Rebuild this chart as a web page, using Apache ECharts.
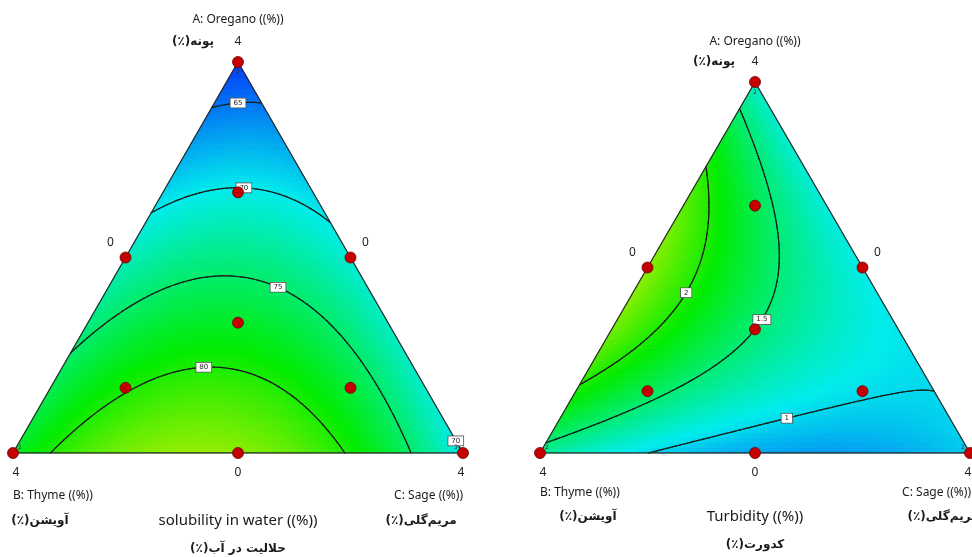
<!DOCTYPE html>
<html>
<head>
<meta charset="utf-8">
<script src="https://cdn.jsdelivr.net/npm/echarts/dist/echarts.min.js"></script>
<style>
  html, body { margin: 0; padding: 0; background: #fff; }
  #chart { width: 972px; height: 557px; }
</style>
</head>
<body>
<div id="chart"></div>
<script>
// ---- data -------------------------------------------------------------
// Mixture corners: A = Oregano (top), B = Thyme (bottom-left), C = Sage (bottom-right)

// Predicted response at the pure blends [A, B, C]
const solubilityVertex = [62.5, 77.4, 69.8];
// Predicted response at the 50:50 binary blends [AB, AC, BC]
const solubilityEdgeMid = [71.8, 70.8, 84.2];
const solubilityLevels = [65, 70, 75, 80];

const turbidityVertex = [1.2, 1.39, 0.95];
const turbidityEdgeMid = [2.37, 1.09, 0.80];
const turbidityLevels = [1, 1.5, 2];

// Design points as component fractions
const designA = [1, 0, 0, 0.5, 0.5, 0, 0.3333, 0.6667, 0.1667, 0.1667];
const designB = [0, 1, 0, 0.5, 0, 0.5, 0.3333, 0.1667, 0.6667, 0.1667];
const designC = [0, 0, 1, 0, 0.5, 0.5, 0.3333, 0.1667, 0.1667, 0.6667];

// Replicate counts printed beside the pure-blend points [A, B, C]
const solubilityReplicates = ['2', '2', '3'];
const turbidityReplicates = ['2', '2', '2'];

// Axis tick text at corners [A, B, C] and edge midpoints [AB, AC, BC]
const cornerTicks = ['4', '4', '4'];
const midTicks = ['0', '0', '0'];

// Titles
const nameA = 'A: Oregano ((%))';
const nameB = 'B: Thyme ((%))';
const nameC = 'C: Sage ((%))';
const faA = 'پونه(٪)';
const faB = 'آویشن(٪)';
const faC = 'مریم‌گلی(٪)';
const titleSolubility = 'solubility in water ((%))';
const faSolubility = 'حلالیت در آب(٪)';
const titleTurbidity = 'Turbidity ((%))';
const faTurbidity = 'کدورت(٪)';

// ---- model & geometry ---------------------------------------------------
// Scheffé quadratic mixture model through the vertex and midpoint values
function blendModel(vertex, mid) {
  const [yA, yB, yC] = vertex;
  const bAB = 4 * mid[0] - 2 * (yA + yB);
  const bAC = 4 * mid[1] - 2 * (yA + yC);
  const bBC = 4 * mid[2] - 2 * (yB + yC);
  return (a, b, c) => yA * a + yB * b + yC * c + bAB * a * b + bAC * a * c + bBC * b * c;
}
// ternary fractions -> plane (x across the base, y = A height)
const toXY = (a, c) => [c + a / 2, a];

const rampStops = [
  [0.00, [0, 20, 250]],
  [0.25, [0, 236, 236]],
  [0.50, [0, 236, 0]],
  [0.75, [240, 240, 0]],
  [1.00, [240, 0, 0]]
];
function rampColor(t) {
  t = Math.max(0, Math.min(1, t));
  for (let k = 1; k < rampStops.length; k++) {
    if (t <= rampStops[k][0]) {
      const [t0, c0] = rampStops[k - 1];
      const [t1, c1] = rampStops[k];
      const u = (t - t0) / (t1 - t0);
      const c = c0.map((v, i) => Math.round(v + (c1[i] - v) * u));
      return 'rgb(' + c.join(',') + ')';
    }
  }
  return 'rgb(' + rampStops[rampStops.length - 1][1].join(',') + ')';
}

function fillCells(model, n, lo, hi) {
  const cells = [];
  const add = (p, q, r) => {
    const a = (p[0] + q[0] + r[0]) / (3 * n);
    const c = (p[1] + q[1] + r[1]) / (3 * n);
    const v = model(a, 1 - a - c, c);
    const P = toXY(p[0] / n, p[1] / n), Q = toXY(q[0] / n, q[1] / n), R = toXY(r[0] / n, r[1] / n);
    cells.push([P[0], P[1], Q[0], Q[1], R[0], R[1], (v - lo) / (hi - lo)]);
  };
  for (let i = 0; i < n; i++) {
    for (let j = 0; i + j < n; j++) {
      add([i, j], [i + 1, j], [i, j + 1]);
      if (i + j + 2 <= n) add([i + 1, j], [i, j + 1], [i + 1, j + 1]);
    }
  }
  return cells;
}

function contourSegments(model, levels, n) {
  const segs = [];
  const cache = {};
  const val = (i, j) => {
    const k = i + ',' + j;
    if (!(k in cache)) cache[k] = model(i / n, 1 - (i + j) / n, j / n);
    return cache[k];
  };
  const tri = (p, q, r) => {
    const nodes = [p, q, r];
    const f = nodes.map(d => val(d[0], d[1]));
    levels.forEach(L => {
      const pts = [];
      for (let e = 0; e < 3; e++) {
        const s = e, t = (e + 1) % 3;
        if ((f[s] - L) * (f[t] - L) < 0) {
          const u = (L - f[s]) / (f[t] - f[s]);
          const a = (nodes[s][0] + u * (nodes[t][0] - nodes[s][0])) / n;
          const c = (nodes[s][1] + u * (nodes[t][1] - nodes[s][1])) / n;
          pts.push(toXY(a, c));
        }
      }
      if (pts.length === 2) segs.push([pts[0][0], pts[0][1], pts[1][0], pts[1][1]]);
    });
  };
  for (let i = 0; i < n; i++) {
    for (let j = 0; i + j < n; j++) {
      tri([i, j], [i + 1, j], [i, j + 1]);
      if (i + j + 2 <= n) tri([i + 1, j], [i, j + 1], [i + 1, j + 1]);
    }
  }
  return segs;
}

// place a level label on its contour, searching vertically near a seed
function labelPoint(model, level, x, aSeed) {
  const f = a => { const c = x - a / 2; return model(a, 1 - a - c, c) - level; };
  let best = null;
  const step = 0.002;
  for (let a = Math.max(0, aSeed - 0.15); a < Math.min(1, aSeed + 0.15); a += step) {
    const c0 = x - a / 2, c1 = x - (a + step) / 2;
    if (c0 < 0 || 1 - a - c0 < 0 || c1 < 0 || 1 - (a + step) - c1 < 0) continue;
    if (f(a) * f(a + step) <= 0) {
      let lo = a, hi = a + step;
      for (let k = 0; k < 30; k++) {
        const m = (lo + hi) / 2;
        if (f(lo) * f(m) <= 0) hi = m; else lo = m;
      }
      const root = (lo + hi) / 2;
      if (best === null || Math.abs(root - aSeed) < Math.abs(best - aSeed)) best = root;
    }
  }
  return [x, best === null ? aSeed : best];
}

// ---- chart ---------------------------------------------------------------
const solubility = blendModel(solubilityVertex, solubilityEdgeMid);
const turbidity = blendModel(turbidityVertex, turbidityEdgeMid);

const plots = [
  {
    model: solubility, levels: solubilityLevels, range: [61, 97],
    replicates: solubilityReplicates,
    labelSeeds: [[65, 0.5, 0.9], [70, 0.513, 0.673], [75, 0.589, 0.4], [80, 0.424, 0.197], [70, 0.984, 0.031]]
  },
  {
    model: turbidity, levels: turbidityLevels, range: [0.25, 3.55],
    replicates: turbidityReplicates,
    labelSeeds: [[2, 0.34, 0.418], [1.5, 0.516, 0.329], [1, 0.574, 0.108]]
  }
];

const corners = [[1, 0, 0], [0, 1, 0], [0, 0, 1]];
const mids = [[0.5, 0.5, 0], [0.5, 0, 0.5], [0, 0.5, 0.5]];
const cornerOffsets = [[0, -20], [3, 20], [-2, 20]];
const midOffsets = [[-15, -15], [15, -15], [0, 20]];
const replicateOffsets = [[0, 10], [7, -6], [-7, -6]];

const series = [];
plots.forEach((pl, g) => {
  const axis = { xAxisIndex: g, yAxisIndex: g };
  // colour field
  series.push(Object.assign({
    type: 'custom', z: 1, silent: true, animation: false, progressive: 0,
    data: fillCells(pl.model, 72, pl.range[0], pl.range[1]),
    renderItem: (params, api) => {
      const p = [0, 2, 4].map(k => api.coord([api.value(k), api.value(k + 1)]));
      const col = rampColor(api.value(6));
      return { type: 'polygon', shape: { points: p }, style: { fill: col, stroke: col, lineWidth: 0.8 } };
    }
  }, axis));
  // contour lines
  series.push(Object.assign({
    type: 'custom', z: 2, silent: true, animation: false, progressive: 0,
    data: contourSegments(pl.model, pl.levels, 160),
    renderItem: (params, api) => {
      const p1 = api.coord([api.value(0), api.value(1)]);
      const p2 = api.coord([api.value(2), api.value(3)]);
      return { type: 'line', shape: { x1: p1[0], y1: p1[1], x2: p2[0], y2: p2[1] },
        style: { stroke: '#17221d', lineWidth: 1.2, lineCap: 'round' } };
    }
  }, axis));
  // triangle outline
  series.push(Object.assign({
    type: 'line', z: 3, silent: true, animation: false, symbol: 'none',
    data: corners.concat([corners[0]]).map(t => toXY(t[0], t[2])),
    lineStyle: { color: '#2b2b2b', width: 1.3 }
  }, axis));
  // contour level labels
  series.push(Object.assign({
    type: 'custom', z: 4, silent: true, animation: false,
    data: pl.labelSeeds.map(s => labelPoint(pl.model, s[0], s[1], s[2]).concat([s[0]])),
    renderItem: (params, api) => {
      const p = api.coord([api.value(0), api.value(1)]);
      return { type: 'text', x: p[0], y: p[1], style: {
        text: String(api.value(2)), fill: '#222', font: '7px "DejaVu Sans"',
        align: 'center', verticalAlign: 'middle', textAlign: 'center', textVerticalAlign: 'middle',
        backgroundColor: '#fff', borderColor: '#555', borderWidth: 0.8, padding: [1, 3, 1, 3]
      } };
    }
  }, axis));
  // design points
  series.push(Object.assign({
    type: 'scatter', z: 5, silent: true, animation: false,
    symbol: 'circle', symbolSize: 11,
    data: designA.map((a, k) => toXY(a, designC[k])),
    itemStyle: { color: '#c40000', borderColor: '#6e0000', borderWidth: 0.8, opacity: 1 }
  }, axis));
  // corner / midpoint ticks and replicate counts
  const ann = [];
  corners.forEach((t, k) => ann.push(toXY(t[0], t[2]).concat([0, k])));
  mids.forEach((t, k) => ann.push(toXY(t[0], t[2]).concat([1, k])));
  corners.forEach((t, k) => ann.push(toXY(t[0], t[2]).concat([2, k])));
  series.push(Object.assign({
    type: 'custom', z: 6, silent: true, animation: false,
    data: ann,
    renderItem: (params, api) => {
      const p = api.coord([api.value(0), api.value(1)]);
      const kind = api.value(2), k = api.value(3);
      let text, off, font = '12px "Noto Sans"', fill = '#222';
      if (kind === 0) { text = cornerTicks[k]; off = cornerOffsets[k]; }
      else if (kind === 1) { text = midTicks[k]; off = midOffsets[k]; }
      else { text = pl.replicates[k]; off = replicateOffsets[k]; font = '6px "DejaVu Sans"'; fill = '#333'; }
      return { type: 'text', x: p[0] + off[0], y: p[1] + off[1], style: {
        text: text, font: font, fill: fill,
        align: 'center', verticalAlign: 'middle', textAlign: 'center', textVerticalAlign: 'middle'
      } };
    }
  }, axis));
});

const latin = '12px "Noto Sans"';
const latinTitle = '15px "Noto Sans"';
const persian = 'bold 12px "DejaVu Sans"';
const rtl = s => '\u202B' + s + '\u202C';
function label(x, y, text, font, align) {
  return { type: 'text', x: x, y: y, silent: true, style: {
    text: text, font: font, fill: '#1a1a1a',
    align: align || 'center', verticalAlign: 'middle',
    textAlign: align || 'center', textVerticalAlign: 'middle'
  } };
}

const option = {
  animation: false,
  backgroundColor: '#fff',
  grid: [
    { left: 13, top: 62, width: 450, height: 391 },
    { left: 540, top: 82, width: 430, height: 371 }
  ],
  xAxis: [0, 1].map(g => ({ type: 'value', gridIndex: g, min: 0, max: 1, show: false })),
  yAxis: [0, 1].map(g => ({ type: 'value', gridIndex: g, min: 0, max: 1, show: false })),
  series: series,
  graphic: [
    label(238, 20, nameA, latin),
    label(193, 42, rtl(faA), persian),
    label(13, 496, nameB, latin, 'left'),
    label(463, 496, nameC, latin, 'right'),
    label(40, 521, rtl(faB), persian),
    label(238, 521, titleSolubility, latinTitle),
    label(421, 521, rtl(faC), persian),
    label(238, 549, rtl(faSolubility), persian),

    label(755, 42, nameA, latin),
    label(714, 62, rtl(faA), persian),
    label(540, 493, nameB, latin, 'left'),
    label(971, 493, nameC, latin, 'right'),
    label(588, 517, rtl(faB), persian),
    label(755, 517, titleTurbidity, latinTitle),
    label(943, 517, rtl(faC), persian),
    label(755, 545, rtl(faTurbidity), persian)
  ]
};

const chart = echarts.init(document.getElementById('chart'));
chart.setOption(option);
</script>
</body>
</html>
